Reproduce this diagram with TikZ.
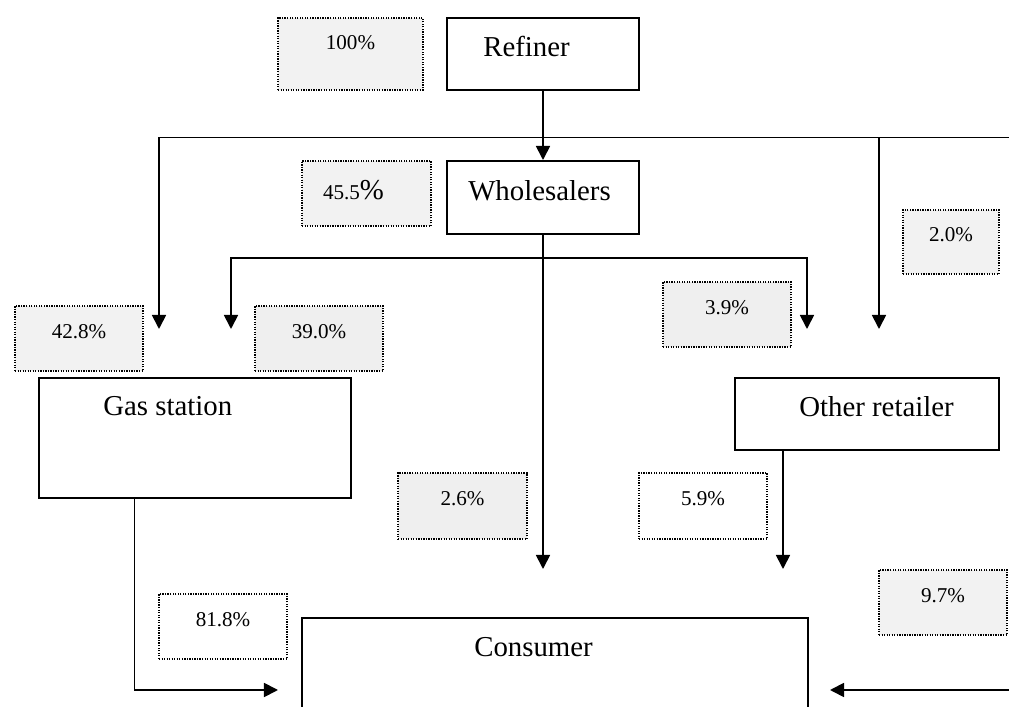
\documentclass[tikz,border=0pt]{standalone}
\usepackage{fontspec}
\setmainfont{Liberation Serif}
\usetikzlibrary{arrows.meta}
\definecolor{pctgray}{HTML}{F2F2F2}
\definecolor{pctgraydk}{HTML}{EFEFEF}
\newcommand{\mainsize}{\fontsize{20.5}{24}\selectfont}
\newcommand{\pctsize}{\fontsize{15}{18}\selectfont}

\begin{document}
\begin{tikzpicture}[x=0.025cm, y=-0.025cm, >={Triangle[length=0.35cm, width=0.35cm]},
    flow/.style={line width=1.25pt},
    unit/.style={draw, line width=1.4pt, inner sep=0pt},
    unittext/.style={font=\mainsize, anchor=base west, inner sep=0pt},
    share/.style={draw, fill=pctgray, line width=0.8pt, dash pattern=on 0.9pt off 0.9pt,
        inner sep=0pt, font=\pctsize, text height=0.35cm, text depth=0.37cm,
        minimum width=3.2cm, minimum height=1.625cm}]
    \useasboundingbox (0,0) rectangle (1009,707);
    \clip (0,0) rectangle (1009,707);
    % units of the chain
    \node[unit, minimum width=4.8cm, minimum height=1.8cm] (refiner) at (543,54) {};
    \node[unittext] (refinertxt) at (483,57) {Refiner};
    \node[unit, minimum width=4.8cm, minimum height=1.825cm] (whole) at (543,197.5) {};
    \node[unittext] (wholetxt) at (468,201) {Wholesalers};
    \node[unit, minimum width=7.8cm, minimum height=3cm] (gas) at (195,438) {};
    \node[unittext] (gastxt) at (103,416) {Gas station};
    \node[unit, minimum width=6.6cm, minimum height=1.8cm] (other) at (867,414) {};
    \node[unittext] (othertxt) at (799,417) {Other retailer};
    \node[unit, minimum width=12.65cm, minimum height=3.05cm] (cons) at (555,679) {};
    \node[unittext] (constxt) at (474,657) {Consumer};
    % shares
    \node[share, minimum width=3.625cm, minimum height=1.8cm, text depth=0.57cm] (p100) at (350.5,54) {100\%};
    \node[share, minimum width=3.225cm, text height=0.5cm, text depth=0.175cm] (p455) at (366.5,193.5) {45.5{\mainsize\%}\hspace*{0.65cm}};
    \node[share, minimum width=2.4cm, minimum height=1.6cm] (p20) at (951,242) {2.0\%};
    \node[share] (p428) at (79,338.5) {42.8\%};
    \node[share, fill=pctgraydk] (p390) at (319,338.5) {39.0\%};
    \node[share, fill=pctgraydk] (p39) at (727,314.5) {3.9\%};
    \node[share, minimum width=3.225cm, minimum height=1.65cm, fill=pctgraydk] (p26) at (462.5,506) {2.6\%};
    \node[share, minimum height=1.65cm, fill=white] (p59) at (703,506) {5.9\%};
    \node[share, fill=white] (p818) at (223,626.5) {81.8\%};
    \node[share] (p97) at (943,602.5) {9.7\%};
    % free ends of the flows
    \coordinate (gasin1) at (159,329);
    \coordinate (gasin2) at (231,329);
    \coordinate (othin1) at (807,329);
    \coordinate (othin2) at (879,329);
    \coordinate (consin1) at (278,690);
    \coordinate (consin2) at (830,690);
    \coordinate (consin3) at (543,569);
    \coordinate (consin4) at (783,569);
    \coordinate (split1) at (543,137.5);
    \coordinate (split2) at (543,258);
    \coordinate (rim) at (1012,137.5);
    % flows
    \draw[flow,->] (refiner) -- (whole);
    \draw[flow,<->] (gasin1) |- (rim) |- (consin2);
    \draw[flow,->] (split1 -| othin2) -- (othin2);
    \draw[flow,<->] (gasin2) |- (split2) -| (othin1);
    \draw[flow,->] (whole) -- (consin3);
    \draw[flow,->] ([xshift=-1.5125cm]gas.south) |- (consin1);
    \draw[flow,->] ([xshift=-2.1cm]other.south) -- (consin4);
\end{tikzpicture}
\end{document}
